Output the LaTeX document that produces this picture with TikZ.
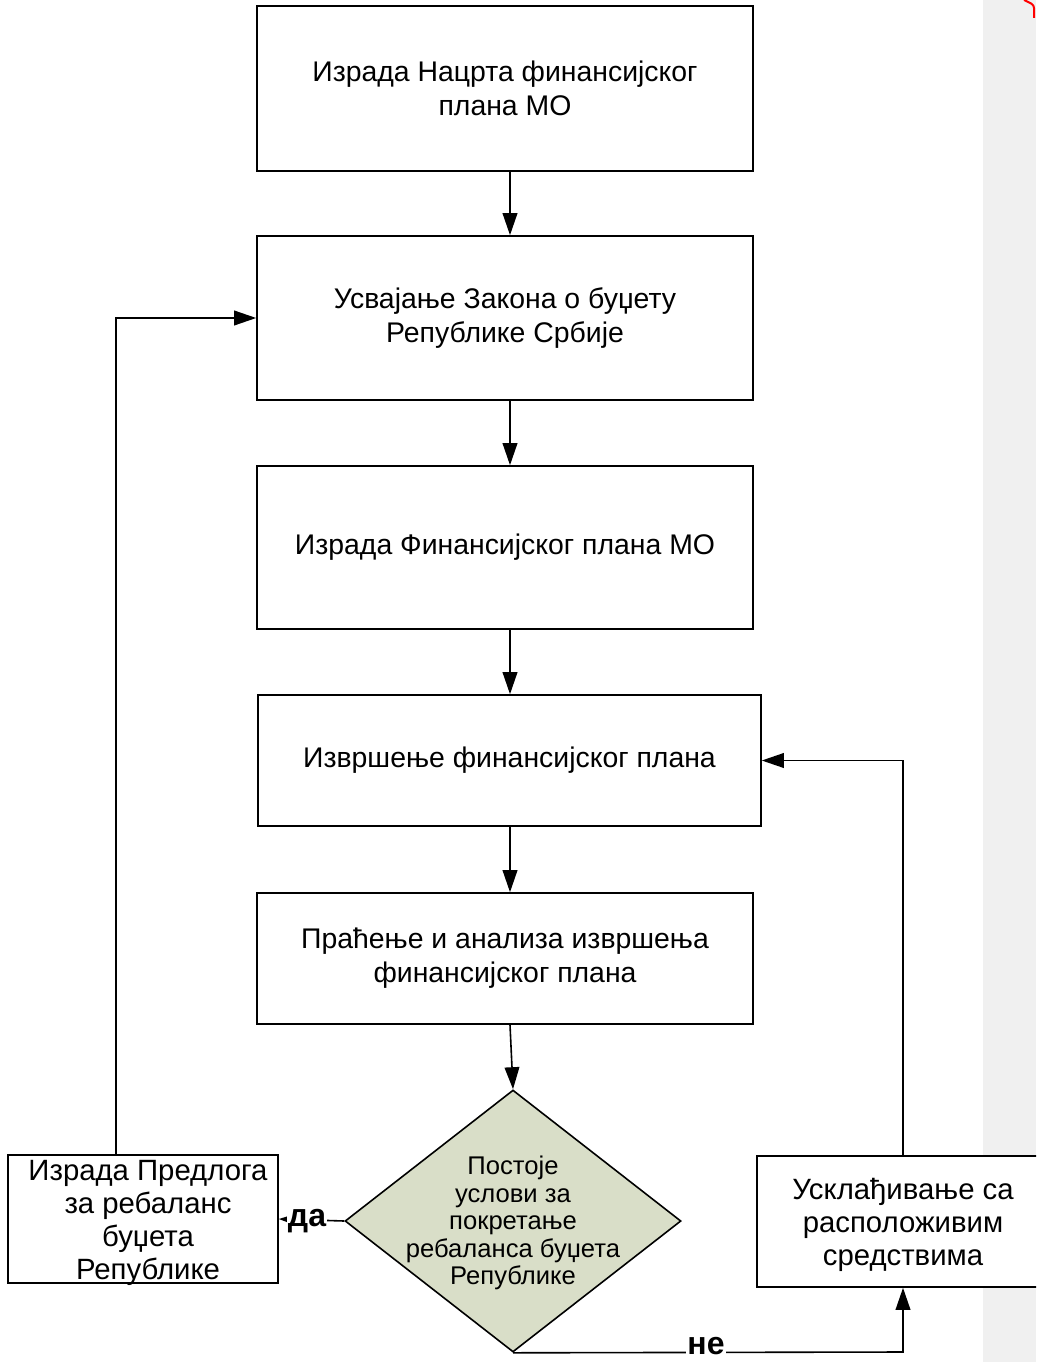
\documentclass[tikz,border=0pt]{standalone}
\usepackage{fontspec}
\setmainfont{Liberation Sans}
\usetikzlibrary{arrows.meta,shapes.geometric}

\definecolor{decfill}{RGB}{217,222,200}
\definecolor{sidebar}{RGB}{240,240,240}

\tikzset{
  stepbox/.style={draw, line width=1.2pt, fill=white, align=center,
    inner sep=0pt, font=\fontsize{21.3}{25.5}\selectfont},
  sidebox/.style={draw, line width=1.2pt, fill=white, inner sep=0pt},
  sidetext/.style={align=center, inner sep=0pt, font=\fontsize{22}{24.8}\selectfont},
  decision/.style={diamond, draw, line width=1.2pt, fill=decfill,
    inner sep=0pt, minimum width=252pt, minimum height=196.5pt},
  dectext/.style={align=center, font=\fontsize{19.2}{20.6}\selectfont},
  arr/.style={line width=1.2pt, -{Triangle[length=16.5pt,width=11pt]}},
  flag/.style={fill=white, inner sep=1pt, font=\fontsize{24}{26}\selectfont\bfseries}
}

\begin{document}
\begin{tikzpicture}[x=0.75pt, y=-0.75pt]
  \useasboundingbox (0,0) rectangle (1036,1362);
  \clip (0,0) rectangle (1036,1362);
  \fill[white] (0,0) rectangle (1036,1362);
  \fill[sidebar] (983,0) rectangle (1036,1362);
  \draw[red, line width=1.5pt] (1024,0) .. controls (1030,3) and (1034,4) .. (1034,8) -- (1034,18);

  % main column
  \node[stepbox, minimum width=372pt, minimum height=123.75pt] (b1) at (505,88.5)
    {Израда Нацрта финансијског\\плана МО};
  \node[stepbox, minimum width=372pt, minimum height=123pt] (b2) at (505,318)
    {Усвајање Закона о буџету\\Републике Србије};
  \node[stepbox, minimum width=372pt, minimum height=122.25pt] (b3) at (505,547.5)
    {Израда Финансијског плана МО};
  \node[stepbox, minimum width=377.25pt, minimum height=98.25pt] (b4) at (509.5,760.5)
    {Извршење финансијског плана};
  \node[stepbox, minimum width=372pt, minimum height=98.25pt] (b5) at (505,958.5)
    {Праћење и анализа извршења\\финансијског плана};

  % decision
  \node[decision] (d) at (513,1221) {};
  \node[dectext] (dt) at (513,1223)
    {Постоје\\услови за\\покретање\\ребаланса буџета\\Републике};

  % side boxes
  \node[sidebox, minimum width=202.5pt, minimum height=96pt] (L) at (143,1219) {};
  \node[sidetext] (Lt) at (148,1223)
    {Израда Предлога\\за ребаланс\\буџета\\Републике};
  \node[sidebox, minimum width=219pt, minimum height=98.25pt] (R) at (903,1221.5) {};
  \node[sidetext] (Rt) at (903,1224.5)
    {Усклађивање са\\расположивим\\средствима};

  % connector guide coordinates
  \coordinate (ax) at (510,0);
  \coordinate (lx) at (116,0);
  \coordinate (rx) at (903,0);
  \coordinate (ny) at (0,1352);

  \draw[arr] (b1.south -| ax) -- (b2.north -| ax);
  \draw[arr] (b2.south -| ax) -- (b3.north -| ax);
  \draw[arr] (b3.south -| ax) -- (b4.north -| ax);
  \draw[arr] (b4.south -| ax) -- (b5.north -| ax);
  \draw[arr] (b5.south -| ax) -- (d.north);

  \draw[arr] (d.west) -- (L.east);
  \node[flag] at (307,1221) {да};

  \draw[arr] (d.south) -- (rx |- ny) -- (R.south);
  \node[flag] at (706,1346) {не};

  \draw[arr] (R.north) -- (rx |- b4.east) -- (b4.east);
  \draw[arr] (L.north -| lx) -- (lx |- b2.west) -- (b2.west);
\end{tikzpicture}
\end{document}
